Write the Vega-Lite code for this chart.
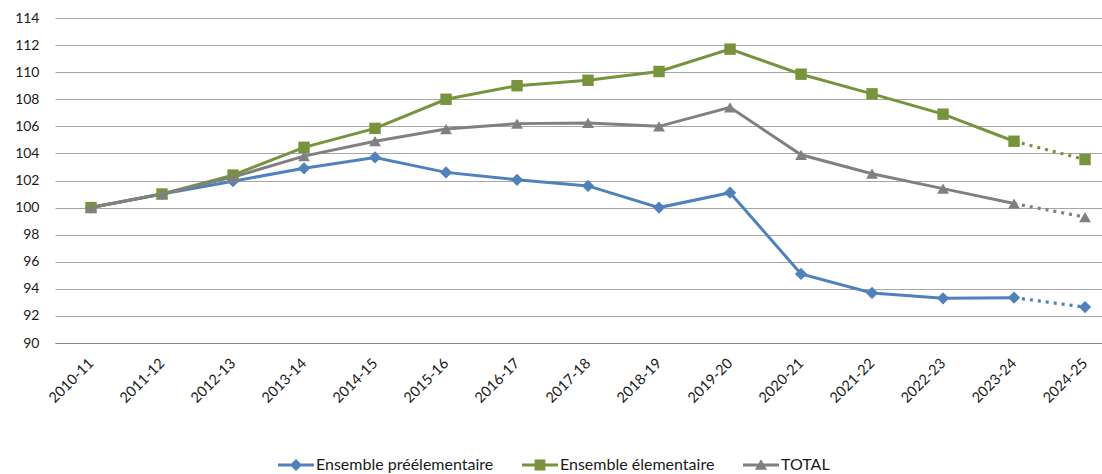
{
  "$schema": "https://vega.github.io/schema/vega-lite/v6.json",
  "width": 1047,
  "height": 325,
  "autosize": {"type": "none"},
  "padding": {"left": 55, "top": 18, "right": 0, "bottom": 131},
  "background": "white",
  "config": {
    "view": {"stroke": null},
    "font": "Lato",
    "axis": {"labelFont": "Lato", "labelColor": "#1a1a1a", "labelFontSize": 13},
    "legend": {"labelFont": "Lato", "labelColor": "#1a1a1a", "labelFontSize": 16, "labelLimit": 400}
  },
  "data": {
    "values": [
      {"year": "2010-11", "series": "Ensemble préélementaire", "value": 100},
      {"year": "2011-12", "series": "Ensemble préélementaire", "value": 101.0},
      {"year": "2012-13", "series": "Ensemble préélementaire", "value": 101.95},
      {"year": "2013-14", "series": "Ensemble préélementaire", "value": 102.9},
      {"year": "2014-15", "series": "Ensemble préélementaire", "value": 103.7},
      {"year": "2015-16", "series": "Ensemble préélementaire", "value": 102.6},
      {"year": "2016-17", "series": "Ensemble préélementaire", "value": 102.05},
      {"year": "2017-18", "series": "Ensemble préélementaire", "value": 101.6},
      {"year": "2018-19", "series": "Ensemble préélementaire", "value": 100.0},
      {"year": "2019-20", "series": "Ensemble préélementaire", "value": 101.1},
      {"year": "2020-21", "series": "Ensemble préélementaire", "value": 95.1},
      {"year": "2021-22", "series": "Ensemble préélementaire", "value": 93.7},
      {"year": "2022-23", "series": "Ensemble préélementaire", "value": 93.3},
      {"year": "2023-24", "series": "Ensemble préélementaire", "value": 93.35},
      {"year": "2024-25", "series": "Ensemble préélementaire", "value": 92.65},
      {"year": "2010-11", "series": "Ensemble élementaire", "value": 100},
      {"year": "2011-12", "series": "Ensemble élementaire", "value": 101.0},
      {"year": "2012-13", "series": "Ensemble élementaire", "value": 102.4},
      {"year": "2013-14", "series": "Ensemble élementaire", "value": 104.45},
      {"year": "2014-15", "series": "Ensemble élementaire", "value": 105.85},
      {"year": "2015-16", "series": "Ensemble élementaire", "value": 108.0},
      {"year": "2016-17", "series": "Ensemble élementaire", "value": 109.0},
      {"year": "2017-18", "series": "Ensemble élementaire", "value": 109.4},
      {"year": "2018-19", "series": "Ensemble élementaire", "value": 110.05},
      {"year": "2019-20", "series": "Ensemble élementaire", "value": 111.7},
      {"year": "2020-21", "series": "Ensemble élementaire", "value": 109.85},
      {"year": "2021-22", "series": "Ensemble élementaire", "value": 108.4},
      {"year": "2022-23", "series": "Ensemble élementaire", "value": 106.9},
      {"year": "2023-24", "series": "Ensemble élementaire", "value": 104.9},
      {"year": "2024-25", "series": "Ensemble élementaire", "value": 103.55},
      {"year": "2010-11", "series": "TOTAL", "value": 100},
      {"year": "2011-12", "series": "TOTAL", "value": 101.0},
      {"year": "2012-13", "series": "TOTAL", "value": 102.25},
      {"year": "2013-14", "series": "TOTAL", "value": 103.8},
      {"year": "2014-15", "series": "TOTAL", "value": 104.9},
      {"year": "2015-16", "series": "TOTAL", "value": 105.8},
      {"year": "2016-17", "series": "TOTAL", "value": 106.2},
      {"year": "2017-18", "series": "TOTAL", "value": 106.25},
      {"year": "2018-19", "series": "TOTAL", "value": 106.0},
      {"year": "2019-20", "series": "TOTAL", "value": 107.4},
      {"year": "2020-21", "series": "TOTAL", "value": 103.9},
      {"year": "2021-22", "series": "TOTAL", "value": 102.5},
      {"year": "2022-23", "series": "TOTAL", "value": 101.4},
      {"year": "2023-24", "series": "TOTAL", "value": 100.3},
      {"year": "2024-25", "series": "TOTAL", "value": 99.3}
    ]
  },
  "encoding": {
    "x": {
      "field": "year", "type": "ordinal", "title": null,
      "scale": {"type": "point", "padding": 0.373, "align": 0.68},
      "axis": {"labelAngle": -45, "labelAlign": "right", "labelBaseline": "middle", "labelPadding": 18, "ticks": false, "domain": true, "domainColor": "#868686", "domainWidth": 1, "grid": false, "labelFontSize": 14.5}
    },
    "y": {
      "field": "value", "type": "quantitative", "title": null,
      "scale": {"domain": [90, 114], "nice": false, "zero": false},
      "axis": {"values": [90, 92, 94, 96, 98, 100, 102, 104, 106, 108, 110, 112, 114], "ticks": false, "domain": false, "grid": true, "gridColor": "#a6a6a6", "gridWidth": 1, "labelPadding": 16, "labelFontSize": 14}
    },
    "color": {
      "field": "series", "type": "nominal",
      "scale": {"domain": ["Ensemble préélementaire", "Ensemble élementaire", "TOTAL"], "range": ["#4f81bd", "#77933c", "#808080"]},
      "legend": {"title": null, "orient": "none", "direction": "horizontal", "legendX": 223, "legendY": 429, "symbolSize": 1296, "symbolStrokeWidth": 0, "labelOffset": 2, "columnPadding": 28, "symbolOpacity": 1}
    }
  },
  "layer": [
    {"transform": [{"filter": "datum.year != '2024-25'"}], "mark": {"type": "line", "strokeWidth": 3}},
    {"transform": [{"filter": {"field": "year", "oneOf": ["2023-24", "2024-25"]}}], "mark": {"type": "line", "strokeWidth": 3.2, "strokeDash": [3, 5]}},
    {"transform": [{"filter": "datum.series == 'Ensemble préélementaire'"}], "mark": {"type": "point", "shape": "diamond", "filled": true, "opacity": 1, "size": 150}},
    {"transform": [{"filter": "datum.series == 'Ensemble élementaire'"}], "mark": {"type": "point", "shape": "square", "filled": true, "opacity": 1, "size": 130}},
    {"transform": [{"filter": "datum.series == 'TOTAL'"}], "mark": {"type": "point", "shape": "triangle-up", "filled": true, "opacity": 1, "size": 140}},
    {
      "transform": [{"filter": "false"}],
      "mark": {"type": "point", "filled": true, "opacity": 1},
      "encoding": {
        "shape": {
          "field": "series", "type": "nominal",
          "scale": {"domain": ["Ensemble préélementaire", "Ensemble élementaire", "TOTAL"],
                    "range": ["M-1,-0.08H1V0.08H-1Z M0,-0.34L0.34,0L0,0.34L-0.34,0Z", "M-1,-0.08H1V0.08H-1Z M-0.3,-0.3H0.3V0.3H-0.3Z", "M-1,-0.08H1V0.08H-1Z M0,-0.32L0.34,0.26H-0.34Z"]},
          "legend": {"title": null, "orient": "none", "direction": "horizontal", "legendX": 223, "legendY": 429, "symbolSize": 1296, "symbolStrokeWidth": 0, "labelOffset": 2, "columnPadding": 28, "symbolOpacity": 1}
        }
      }
    }
  ]
}
